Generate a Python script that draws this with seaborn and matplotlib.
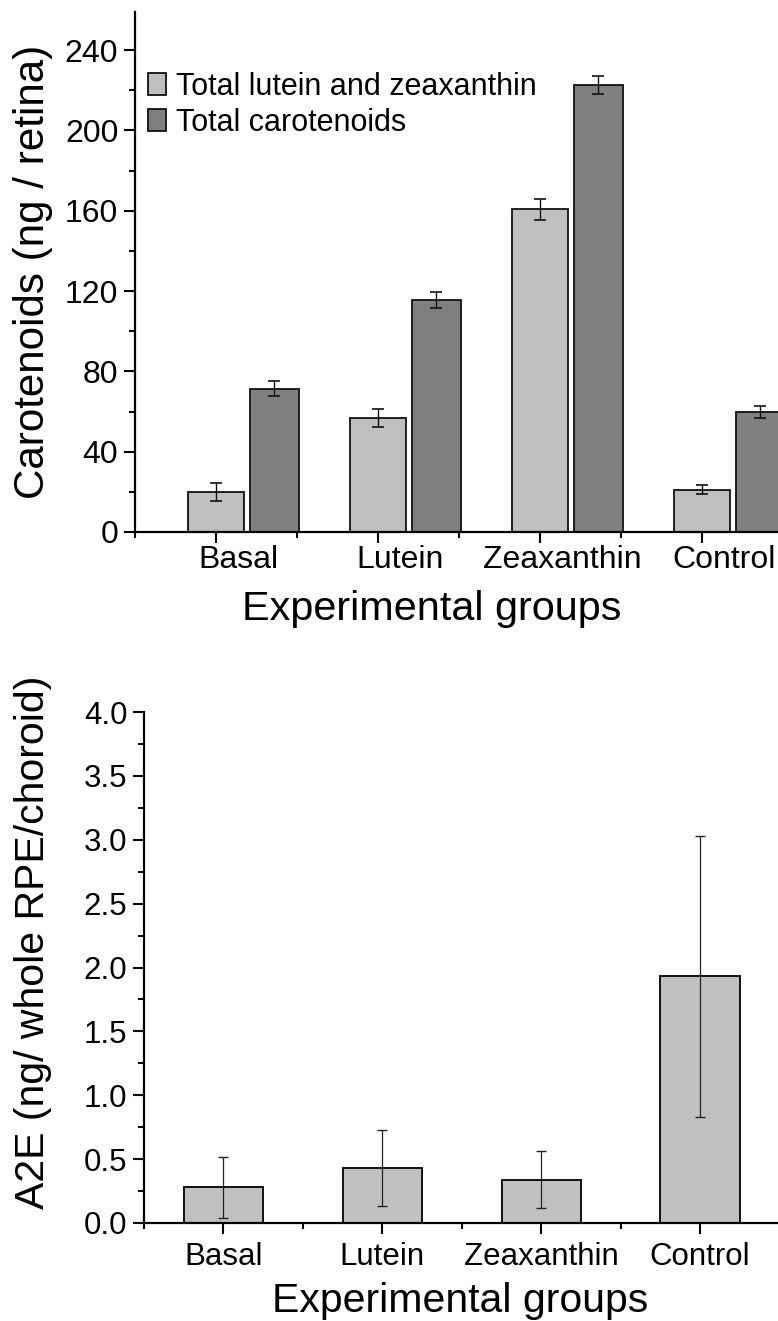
import numpy as np
import pandas as pd
import matplotlib
matplotlib.use("Agg")
import matplotlib.pyplot as plt
import seaborn as sns
from matplotlib.ticker import MultipleLocator, FixedLocator
from matplotlib.transforms import ScaledTranslation

# ---- data ----
groups = ["Basal", "Lutein", "Zeaxanthin", "Control"]
lutein_zeax = [19.8, 56.8, 160.7, 21.1]
lutein_zeax_err = [4.5, 4.3, 5.2, 2.2]
total_carot = [71.4, 115.5, 222.7, 59.8]
total_carot_err = [3.6, 4.0, 4.5, 3.1]
series_labels = ["Total lutein and zeaxanthin", "Total carotenoids"]

a2e = [0.28, 0.43, 0.34, 1.93]
a2e_err = [0.24, 0.30, 0.22, 1.10]

top_yticks = [0, 40, 80, 120, 160, 200, 240]
bot_yticks = [0.0, 0.5, 1.0, 1.5, 2.0, 2.5, 3.0, 3.5, 4.0]

LIGHT = "#C0C0C0"
DARK = "#808080"
EDGE = "#111111"

sns.set_style("ticks")
plt.rcParams["font.family"] = ["Liberation Sans", "DejaVu Sans"]
plt.rcParams["text.color"] = "black"
plt.rcParams["axes.labelcolor"] = "black"
plt.rcParams["xtick.color"] = "black"
plt.rcParams["ytick.color"] = "black"

fig = plt.figure(figsize=(7.78, 13.21), dpi=100)
ax1 = fig.add_axes([0.1735, 0.5973, 0.8329, 0.3936])
ax2 = fig.add_axes([0.1851, 0.0742, 0.8169, 0.3868])

idx = np.arange(len(groups))
pos_light = idx.astype(float)
pos_dark = idx + 0.36

df_top = pd.DataFrame({"pos_l": pos_light, "pos_d": pos_dark,
                       "lz": lutein_zeax, "tc": total_carot})

sns.barplot(data=df_top, x="pos_l", y="lz", native_scale=True, width=0.35,
            color=LIGHT, saturation=1, edgecolor=EDGE, linewidth=1.3,
            errorbar=None, label=series_labels[0], ax=ax1)
sns.barplot(data=df_top, x="pos_d", y="tc", native_scale=True, width=0.30,
            color=DARK, saturation=1, edgecolor=EDGE, linewidth=1.3,
            errorbar=None, label=series_labels[1], ax=ax1)
ax1.errorbar(pos_light, lutein_zeax, yerr=lutein_zeax_err, fmt="none",
             ecolor=EDGE, elinewidth=1.0, capsize=4.2, capthick=1.2, zorder=5)
ax1.errorbar(pos_dark, total_carot, yerr=total_carot_err, fmt="none",
             ecolor=EDGE, elinewidth=1.0, capsize=4.2, capthick=1.2, zorder=5)

ax1.set_xlim(-0.5, 3.5)
ax1.set_ylim(0, 259)
ax1.set_xticks(idx)
ax1.set_xticklabels(groups)
ax1.xaxis.set_minor_locator(FixedLocator([-0.5, 0.5, 1.5, 2.5, 3.5]))
ax1.set_yticks(top_yticks)
ax1.yaxis.set_minor_locator(MultipleLocator(20))
ax1.set_xlabel("Experimental groups", fontsize=29.8)
ax1.set_ylabel("Carotenoids (ng / retina)", fontsize=30.3)
ax1.xaxis.set_label_coords(0.458, -0.1115)
ax1.yaxis.set_label_coords(-0.126, 0.5)
ax1.tick_params(axis="both", which="major", labelsize=23, direction="out",
                length=8, width=1.5, color="black")
ax1.tick_params(axis="both", which="minor", direction="out",
                length=4.5, width=1.5, color="black")
ax1.tick_params(axis="x", which="major", pad=1.5)
ax1.tick_params(axis="y", which="major", pad=4)
for lab in ax1.get_xticklabels():
    lab.set_transform(lab.get_transform() + ScaledTranslation(0.22, 0, fig.dpi_scale_trans))
for side in ["top", "right"]:
    ax1.spines[side].set_visible(False)
for side in ["left", "bottom"]:
    ax1.spines[side].set_linewidth(1.6)
    ax1.spines[side].set_color("black")

ax1.legend(loc="upper left", bbox_to_anchor=(0.020, 0.885), frameon=False,
           fontsize=22, handlelength=0.59, handleheight=0.75,
           handletextpad=0.33, labelspacing=0.2, borderpad=0, borderaxespad=0)

# ---- bottom panel ----
df_bot = pd.DataFrame({"group": groups, "a2e": a2e})
sns.barplot(data=df_bot, x="group", y="a2e", order=groups, width=0.5,
            color=LIGHT, saturation=1, edgecolor=EDGE, linewidth=1.4,
            errorbar=None, ax=ax2)
ax2.errorbar(idx, a2e, yerr=a2e_err, fmt="none", ecolor="#222222",
             elinewidth=0.9, capsize=3.6, capthick=1.0, zorder=5)
ax2.set_xlim(-0.5, 3.5)
ax2.set_ylim(0, 4.0)
ax2.set_yticks(bot_yticks)
ax2.set_yticklabels([f"{v:.1f}" for v in bot_yticks])
ax2.yaxis.set_minor_locator(MultipleLocator(0.25))
ax2.xaxis.set_minor_locator(FixedLocator([-0.5, 0.5, 1.5, 2.5, 3.5]))
ax2.set_xlabel("Experimental groups", fontsize=29.5)
ax2.set_ylabel("A2E (ng/ whole RPE/choroid)", fontsize=29.5)
ax2.xaxis.set_label_coords(0.497, -0.1155)
ax2.yaxis.set_label_coords(-0.145, 0.55)
ax2.tick_params(axis="both", which="major", labelsize=22.5, direction="out",
                length=8, width=1.5, color="black")
ax2.tick_params(axis="both", which="minor", direction="out",
                length=4.5, width=1.5, color="black")
ax2.tick_params(axis="x", which="major", pad=6)
ax2.tick_params(axis="y", which="major", pad=4)
for side in ["top", "right"]:
    ax2.spines[side].set_visible(False)
for side in ["left", "bottom"]:
    ax2.spines[side].set_linewidth(1.6)
    ax2.spines[side].set_color("black")

fig.savefig("out.png", dpi=100)
